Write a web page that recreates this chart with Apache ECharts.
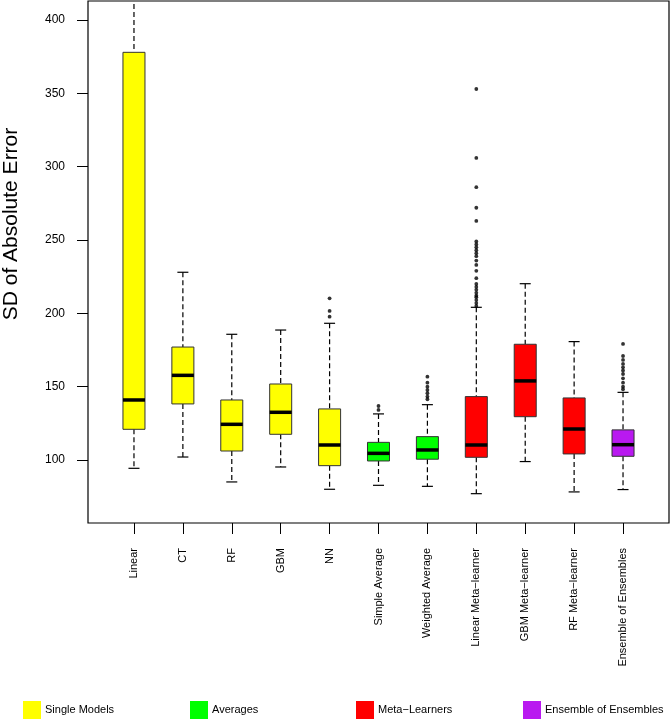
<!DOCTYPE html>
<html>
<head>
<meta charset="utf-8">
<title>SD of Absolute Error</title>
<script src="https://cdn.jsdelivr.net/npm/echarts@6/dist/echarts.min.js"></script>
<style>
    html, body { margin: 0; padding: 0; background: #fff; }
    #main { width: 671px; height: 726px; }
</style>
</head>
<body>
<div id="main"></div>
<script>
// box statistics, one entry per model
var categories = ['Linear', 'CT', 'RF', 'GBM', 'NN', 'Simple Average', 'Weighted Average',
    'Linear Meta\u2212learner', 'GBM Meta\u2212learner', 'RF Meta\u2212learner', 'Ensemble of Ensembles'];
var groupOf = [0, 0, 0, 0, 0, 1, 1, 2, 2, 2, 3];
var lowWhisker = [94.3, 102.0, 85.0, 95.2, 80.0, 82.7, 82.0, 77.0, 98.9, 78.2, 79.8];
var q1 = [120.9, 138.2, 106.1, 117.5, 96.1, 99.3, 100.5, 101.8, 129.5, 104.1, 102.5];
var median = [140.9, 157.7, 124.3, 132.5, 110.2, 104.5, 106.8, 110.2, 153.9, 121.1, 110.4];
var q3 = [378.0, 177.0, 140.9, 151.8, 134.8, 112.0, 115.9, 143.2, 178.9, 142.3, 120.5];
var highWhisker = [460.0, 228.0, 185.7, 188.6, 193.2, 131.4, 137.7, 204.1, 220.2, 180.7, 146.1];
var outliers = [
    [],
    [],
    [],
    [],
    [197.7, 201.6, 210.2],
    [134.1, 136.8],
    [141.4, 143.2, 145.5, 147.7, 150.0, 152.7, 156.8],
    [205, 207, 209, 211, 212, 214, 216, 218, 220, 224, 229, 233, 236, 239, 241, 243, 245, 247, 249, 263, 272, 286, 306, 353],
    [],
    [],
    [148.2, 150.0, 152.7, 155.7, 158.6, 161.0, 163.2, 165.5, 168.2, 170.9, 179.1]
];
var groupNames = ['Single Models', 'Averages', 'Meta\u2212Learners', 'Ensemble of Ensembles'];
var groupColors = ['#ffff00', '#00ff00', '#ff0000', '#b919f0'];
var yTicks = [100, 150, 200, 250, 300, 350, 400];

var FONT = '"Liberation Sans", Arial, sans-serif';
var BOX_WIDTH = 0.45;

function renderBox(params, api) {
    var x = api.value(0);
    var lo = api.coord([x, api.value(1)]);
    var b1 = api.coord([x, api.value(2)]);
    var md = api.coord([x, api.value(3)]);
    var b3 = api.coord([x, api.value(4)]);
    var hi = api.coord([x, api.value(5)]);
    var half = api.size([BOX_WIDTH, 0])[0] / 2;
    var cap = half / 2;
    var cx = lo[0];
    var dashed = {stroke: '#000', lineWidth: 1.2, lineDash: [5, 3]};
    var solid = {stroke: '#000', lineWidth: 1.2};
    return {
        type: 'group',
        children: [
            {type: 'line', shape: {x1: cx, y1: hi[1], x2: cx, y2: b3[1]}, style: dashed},
            {type: 'line', shape: {x1: cx, y1: b1[1], x2: cx, y2: lo[1]}, style: dashed},
            {type: 'line', shape: {x1: cx - cap, y1: hi[1], x2: cx + cap, y2: hi[1]}, style: solid},
            {type: 'line', shape: {x1: cx - cap, y1: lo[1], x2: cx + cap, y2: lo[1]}, style: solid},
            {type: 'rect', shape: {x: cx - half, y: b3[1], width: half * 2, height: b1[1] - b3[1]},
                style: {fill: api.visual('color'), stroke: '#333', lineWidth: 1}},
            {type: 'line', shape: {x1: cx - half, y1: md[1], x2: cx + half, y2: md[1]},
                style: {stroke: '#000', lineWidth: 3.5}}
        ]
    };
}

// one custom series per colour group, so the legend picks up the colours
var series = [];
for (var g = 0; g < groupNames.length; g++) {
    var boxData = [];
    for (var i = 0; i < categories.length; i++) {
        if (groupOf[i] == g) {
            boxData.push([i + 1, lowWhisker[i], q1[i], median[i], q3[i], highWhisker[i]]);
        }
    }
    series.push({
        name: groupNames[g],
        type: 'custom',
        clip: true,
        itemStyle: {color: groupColors[g]},
        renderItem: renderBox,
        encode: {x: 0, y: [1, 2, 3, 4, 5]},
        data: boxData
    });
}

var outlierData = [];
for (var k = 0; k < outliers.length; k++) {
    for (var j = 0; j < outliers[k].length; j++) {
        outlierData.push([k + 1, outliers[k][j]]);
    }
}
series.push({
    name: 'outliers',
    type: 'scatter',
    symbol: 'circle',
    symbolSize: 3.8,
    itemStyle: {color: '#000'},
    clip: true,
    data: outlierData
});

var legendX = [23, 190, 356, 523];
var legends = [];
for (var n = 0; n < groupNames.length; n++) {
    legends.push({
        left: legendX[n],
        top: 701,
        padding: 0,
        itemWidth: 18,
        itemHeight: 18,
        itemGap: 4,
        selectedMode: false,
        icon: 'rect',
        textStyle: {fontFamily: FONT, fontSize: 11, color: '#000', padding: [0, 0, 0, -1]},
        data: [groupNames[n]]
    });
}

var xTicks = [];
for (var t = 1; t <= categories.length; t++) xTicks.push(t);

var myChart = echarts.init(document.getElementById('main'));
var option = {
    animation: false,
    backgroundColor: '#fff',
    grid: {
        left: 88,
        top: 1,
        right: 2,
        bottom: 203,
        show: true,
        borderColor: '#000',
        borderWidth: 1.2,
        backgroundColor: 'transparent'
    },
    legend: legends,
    xAxis: {
        type: 'value',
        min: 0.06,
        max: 11.94,
        axisLine: {show: false},
        splitLine: {show: false},
        axisTick: {
            show: true,
            length: 11,
            customValues: xTicks,
            lineStyle: {color: '#000', width: 1}
        },
        axisLabel: {
            show: true,
            rotate: 90,
            margin: 25,
            customValues: xTicks,
            fontFamily: FONT,
            fontSize: 11,
            color: '#000',
            formatter: function (v) {
                return categories[Math.round(v) - 1];
            }
        }
    },
    yAxis: {
        type: 'value',
        min: 57,
        max: 413,
        axisLine: {show: false},
        splitLine: {show: false},
        axisTick: {
            show: true,
            length: 11,
            customValues: yTicks,
            lineStyle: {color: '#000', width: 1}
        },
        axisLabel: {
            show: true,
            margin: 23,
            customValues: yTicks,
            fontFamily: FONT,
            fontSize: 12,
            color: '#000'
        }
    },
    graphic: [
        {
            type: 'text',
            x: 11,
            y: 224,
            rotation: Math.PI / 2,
            style: {
                text: 'SD of Absolute Error',
                font: '21px ' + FONT,
                fill: '#000',
                textAlign: 'center',
                textVerticalAlign: 'middle'
            }
        }
    ],
    series: series
};
myChart.setOption(option);
</script>
</body>
</html>
